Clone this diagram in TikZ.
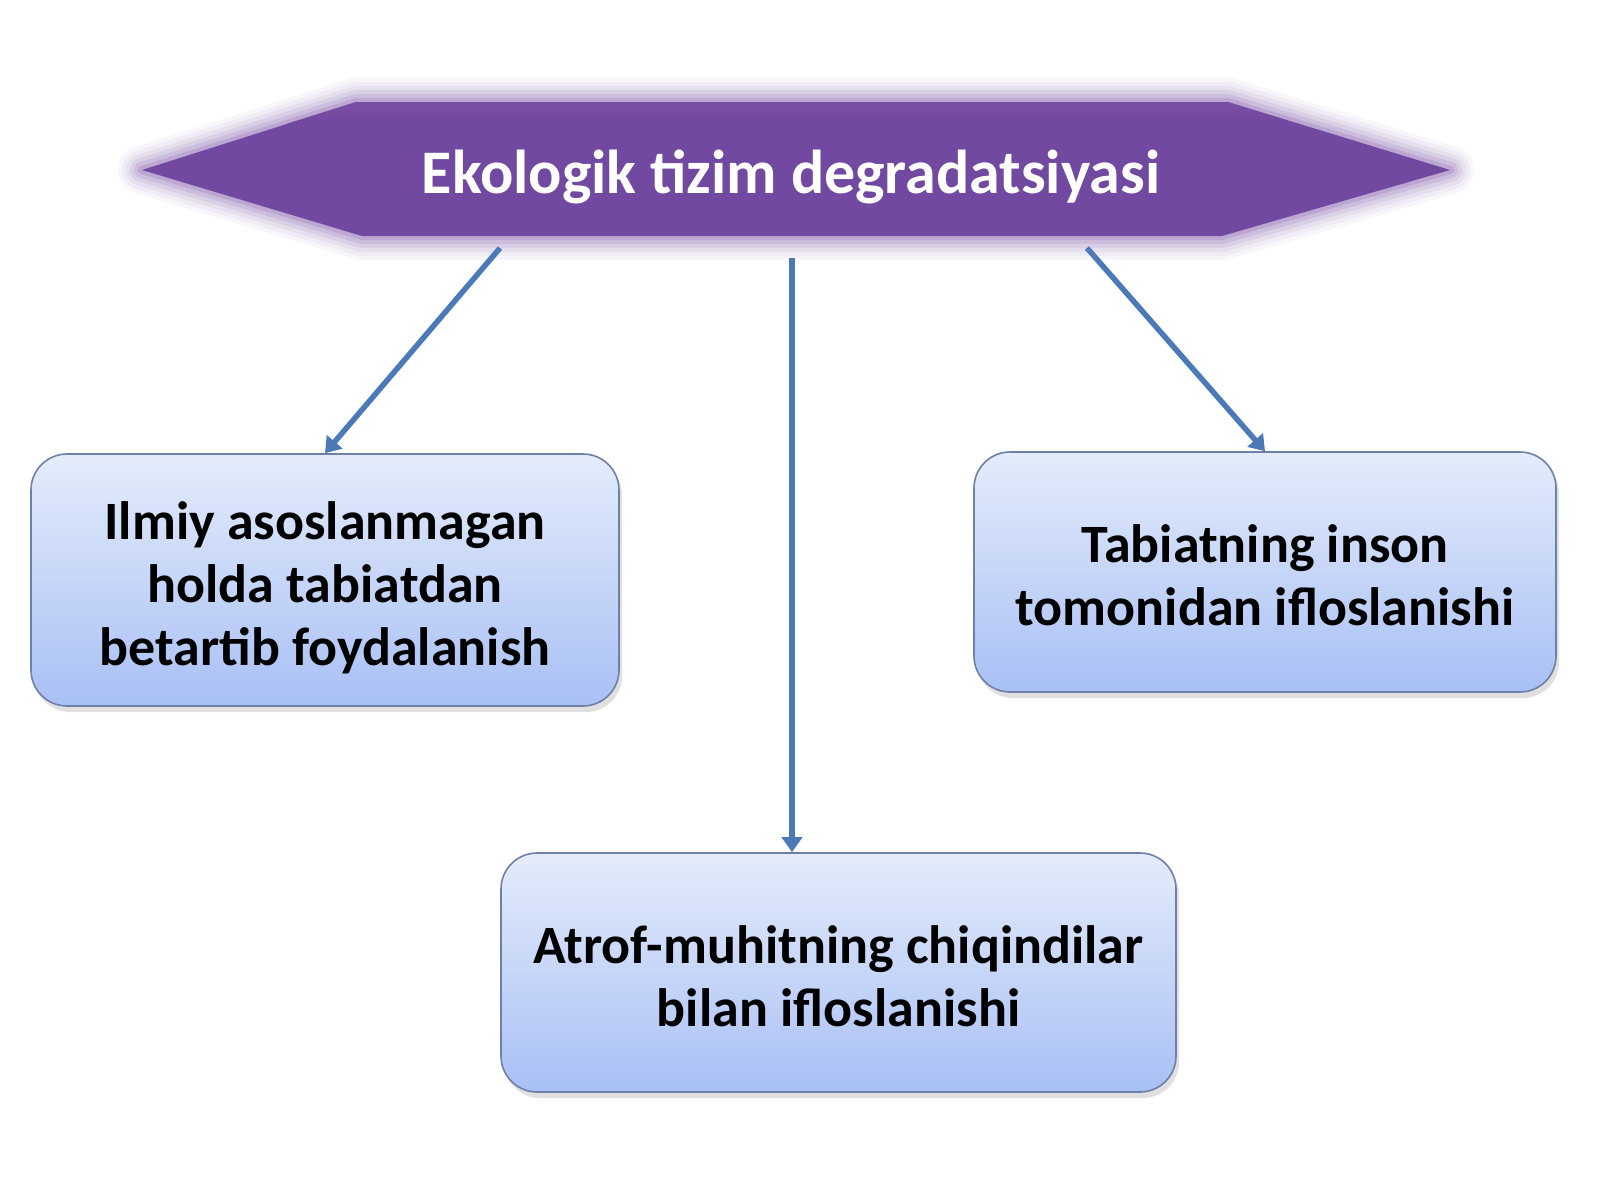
\documentclass[tikz,border=0pt]{standalone}
\usepackage{fontspec}
\setmainfont{Carlito}
\usetikzlibrary{arrows.meta,shadows}
\definecolor{hexpurple}{HTML}{7149A0}
\definecolor{hexedge}{HTML}{7A50A8}
\definecolor{hextop}{HTML}{8052A8}
\definecolor{boxtop}{HTML}{E4ECFB}
\definecolor{boxbot}{HTML}{A9C0F5}
\definecolor{boxline}{HTML}{6F80A6}
\definecolor{arrowblue}{HTML}{4C7AB6}
\newcommand\boxlines[2]{\raisebox{-#1pt}[\height][\depth]{\begin{tabular}{@{}c@{}}#2\end{tabular}}}
\tikzset{
  infobox/.style={rounded corners=36pt, draw=boxline, line width=1.6pt,
    top color=boxtop, bottom color=boxbot, align=center,
    font=\fontsize{54}{63}\selectfont\bfseries, text=black,
    drop shadow={shadow xshift=3pt, shadow yshift=-6pt, opacity=0.2, fill=black!60}},
  connector/.style={draw=arrowblue, line width=5.5pt,
    -{Triangle[length=15pt,width=20pt]}},
  titletext/.style={text=white, font=\fontsize{62}{66}\selectfont\bfseries}
}
\begin{document}
\begin{tikzpicture}[x=1pt,y=-1pt]
\useasboundingbox (0,0) rectangle (1600,1200);
\fill[white] (0,0) rectangle (1600,1200);
% soft-edged hexagon banner
\def\hexpath{(142,170) -- (356,102) -- (1228,102) -- (1450,170) -- (1222,236) -- (362,236) -- cycle}
\foreach \w/\o in {48/0.05, 40/0.06, 32/0.08, 24/0.1, 16/0.14, 8/0.2}{
  \draw[draw=hexedge, draw opacity=\o, line width=\w pt, line join=round] \hexpath;
}
\fill[hexpurple] \hexpath;
\shade[top color=hextop, bottom color=hexpurple, opacity=0.6] (356,102) -- (1228,102) -- (1298,124) -- (286,124) -- cycle;
\node[titletext] (title) at (791,177) {Ekologik tizim degradatsiyasi};
\coordinate (ltop) at (500,248);
\coordinate (mtop) at (792,258);
\coordinate (rtop) at (1087,248);
% boxes
\node[infobox, minimum width=588pt, minimum height=252pt] (lbox) at (325,580)
  {\boxlines{10}{Ilmiy asoslanmagan\\holda tabiatdan\\betartib foydalanish}};
\node[infobox, minimum width=582pt, minimum height=240pt] (rbox) at (1265,572)
  {\boxlines{9}{Tabiatning inson\\tomonidan ifloslanishi}};
\node[infobox, minimum width=675pt, minimum height=239pt] (bbox) at (838.5,972.5)
  {\boxlines{10}{Atrof-muhitning chiqindilar\\bilan ifloslanishi}};
% connectors
\draw[connector] (ltop) -- (lbox.north);
\draw[connector] (mtop) -- (mtop |- bbox.north);
\draw[connector] (rtop) -- (rbox.north);
\end{tikzpicture}
\end{document}
